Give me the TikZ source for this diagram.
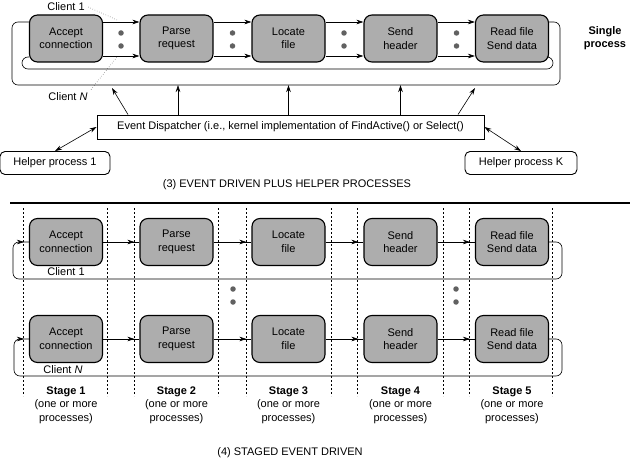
\documentclass[tikz,border=0pt]{standalone}
\usepackage{fontspec}
\setmainfont{Liberation Sans}
\usetikzlibrary{arrows.meta,decorations.markings}
\definecolor{boxgray}{gray}{0.68}
\definecolor{dotgray}{gray}{0.38}
\begin{document}
\begin{tikzpicture}[x=1pt,y=-1pt,
    every node/.style={font=\fontsize{11}{13.5}\selectfont},
    stage/.style={draw,fill=boxgray,rounded corners=8pt,line width=1.1pt,
      minimum width=73pt,minimum height=47pt,inner sep=0pt,align=center},
    helper/.style={draw,rounded corners=5pt,line width=0.9pt,
      minimum height=23pt,inner sep=0pt},
    tip/.style={-{Stealth[length=7pt,width=4.5pt]},semithick},
    late/.style={semithick,postaction={decorate},decoration={markings,
      mark=at position -5pt with {\arrow{Stealth[length=7pt,width=4.5pt]}}}},
    divider/.style={dash pattern=on 2pt off 2pt,line width=0.7pt},
    lead/.style={dotted,thin},
    blob/.style={circle,fill=dotgray,inner sep=0pt,minimum size=5.5pt}]
  \useasboundingbox (0,0) rectangle (630,460);

  % (3) event driven plus helper processes
  \node[stage] (t1) at (66,38.5) {Accept\\connection};
  \node[stage] (t2) at (176.5,38.5) {Parse\\request};
  \node[stage] (t3) at (288.5,38.5) {Locate\\file};
  \node[stage] (t4) at (400.5,38.5) {Send\\header};
  \node[stage] (t5) at (512,38.5) {Read file\\Send data};

  \foreach \a/\b in {t1/t2,t2/t3,t3/t4,t4/t5}{
    \draw[tip] (\a.east |- 0,22) -- (\b.west |- 0,22);
    \draw[tip] (\a.east |- 0,56) -- (\b.west |- 0,56);
  }
  \foreach \x in {121,232.5,344,456.5}{
    \node[blob] at (\x,33) {};
    \node[blob] at (\x,46) {};
  }

  \draw[semithick,rounded corners=6pt] (t5.east |- 0,22) -- (560,22) -- (560,85)
    -- (12,85) -- (12,22) -- (t1.west |- 0,22);
  \draw[semithick,rounded corners=6pt] (t5.east |- 0,57) -- (553,57) -- (553,69)
    -- (22,69) -- (22,57) -- (t1.west |- 0,57);

  \node (c1) at (66,7) {Client 1};
  \node (cn) at (68,97) {Client \textit{N}};
  \draw[lead] (c1.east) -- (117,20);
  \draw[lead] (cn.north east) -- (117,57);

  \node[font=\fontsize{11}{13.5}\selectfont\bfseries,align=center] (single) at (605,38) {Single\\process};

  \node[draw,line width=0.9pt,minimum width=387pt,minimum height=24pt,inner sep=0pt]
    (disp) at (290.5,127) {Event Dispatcher (i.e., kernel implementation of FindActive() or Select()};
  \foreach \x in {178,288.5,400.5}
    \draw[tip] (disp.north -| \x,0) -- (\x,85);
  \draw[tip] (disp.north -| 128,0) -- (112,88);
  \draw[tip] (disp.north -| 458,0) -- (475,88);

  \node[helper,minimum width=110pt] (help1) at (55,163) {Helper process 1};
  \node[helper,minimum width=112pt] (helpk) at (521,163) {Helper process K};
  \draw[{Stealth[length=7pt,width=4.5pt]}-{Stealth[length=7pt,width=4.5pt]},semithick]
    (help1.north) -- (disp.west);
  \draw[{Stealth[length=7pt,width=4.5pt]}-{Stealth[length=7pt,width=4.5pt]},semithick]
    (disp.east) -- (helpk.north);

  \node (cap3) at (287,185) {(3) EVENT DRIVEN PLUS HELPER PROCESSES};
  \draw[line width=1.8pt] (10,203) -- (630,203);

  % (4) staged event driven
  \foreach \x in {23,107,134,218,246,331,357,443,469,552}
    \draw[divider] (\x,208) -- (\x,396);

  \node[stage] (a1) at (66,242) {Accept\\connection};
  \node[stage] (a2) at (176.5,242) {Parse\\request};
  \node[stage] (a3) at (288.5,242) {Locate\\file};
  \node[stage] (a4) at (400.5,242) {Send\\header};
  \node[stage] (a5) at (512,242) {Read file\\Send data};

  \node[stage] (b1) at (66,339) {Accept\\connection};
  \node[stage] (b2) at (176.5,339) {Parse\\request};
  \node[stage] (b3) at (288.5,339) {Locate\\file};
  \node[stage] (b4) at (400.5,339) {Send\\header};
  \node[stage] (b5) at (512,339) {Read file\\Send data};

  \foreach \a/\b in {1/2,2/3,3/4,4/5}{
    \draw[late] (a\a.east) -- (a\b.west);
    \draw[late] (b\a.east) -- (b\b.west);
  }
  \draw[late,rounded corners=6pt] (a5.east) -- (562,242) -- (562,279)
    -- (13,279) -- (13,242) -- (a1.west);
  \draw[late,rounded corners=6pt] (b5.east) -- (562,339) -- (562,376)
    -- (14,376) -- (14,339) -- (b1.west);

  \node (l1) at (66,272) {Client 1};
  \node (ln) at (63,370) {Client \textit{N}};

  \foreach \x in {233,456}{
    \node[blob] at (\x,289) {};
    \node[blob] at (\x,302) {};
  }

  \foreach \x/\n in {66/1,176.5/2,288.5/3,400.5/4,512/5}
    \node[align=center] (s\n) at (\x,405) {\textbf{Stage \n}\\(one or more\\processes)};

  \node (cap4) at (290,453) {(4) STAGED EVENT DRIVEN};
\end{tikzpicture}
\end{document}
